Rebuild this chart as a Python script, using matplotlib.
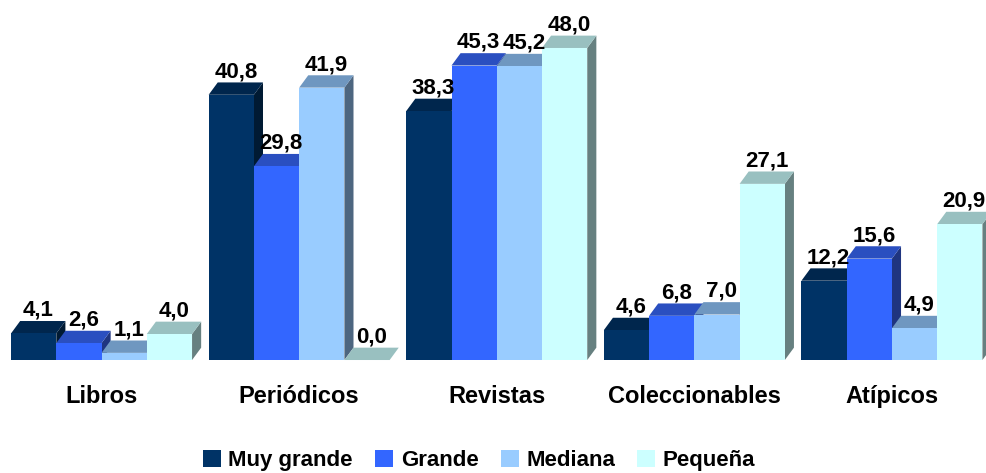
import matplotlib.pyplot as plt
from matplotlib.patches import Polygon, Patch
import numpy as np

plt.rcParams['font.family'] = ['Liberation Sans', 'DejaVu Sans']

# Data
categories = ['Libros', 'Periódicos', 'Revistas', 'Coleccionables', 'Atípicos']
series_names = ['Muy grande', 'Grande', 'Mediana', 'Pequeña']
muy_grande = [4.1, 40.8, 38.3, 4.6, 12.2]
grande = [2.6, 29.8, 45.3, 6.8, 15.6]
mediana = [1.1, 41.9, 45.2, 7.0, 4.9]
pequena = [4.0, 0.0, 48.0, 27.1, 20.9]
series = [muy_grande, grande, mediana, pequena]

# colors: front, top, side
front_colors = ['#003366', '#3366FF', '#99CCFF', '#CCFFFF']
top_colors = ['#00264d', '#2a4fc0', '#6f97c0', '#99c0c0']
side_colors = ['#001a33', '#1f3580', '#4d6680', '#668080']

fig = plt.figure(figsize=(9.86, 4.73), dpi=100)
ax = fig.add_axes([0, 0, 1, 1])
ax.set_xlim(-0.514, 4.476)
ax.set_ylim(-17.38, 55.38)
ax.axis('off')

w = 0.229
dx = 0.046
dy = 1.9
x = np.arange(len(categories))

z = 2
for i in range(len(categories)):
    for j, vals in enumerate(series):
        v = vals[i]
        left = x[i] - 2 * w + j * w
        right = left + w
        # side face
        ax.add_patch(Polygon([(right, 0), (right + dx, dy), (right + dx, v + dy), (right, v)],
                             closed=True, facecolor=side_colors[j], edgecolor='none', zorder=z))
        # top face
        ax.add_patch(Polygon([(left, v), (left + dx, v + dy), (right + dx, v + dy), (right, v)],
                             closed=True, facecolor=top_colors[j], edgecolor='none', zorder=z))
        # front face
        ax.bar(left, v, width=w, align='edge', color=front_colors[j], edgecolor='none', zorder=z + 0.5)
        ax.text(left + w / 2 + dx / 2, v + dy + 0.8, f'{v:.1f}'.replace('.', ','),
                ha='center', va='baseline', fontsize=16, fontweight='bold', zorder=100)
        z += 1

for i, c in enumerate(categories):
    ax.text(x[i], -5.55, c, ha='center', va='center', fontsize=17, fontweight='bold')

handles = [Patch(facecolor=front_colors[j], edgecolor='none') for j in range(4)]
fig.legend(handles, series_names, loc='center', bbox_to_anchor=(0.486, 0.027), ncol=4,
           frameon=False, prop={'weight': 'bold', 'size': 16}, handlelength=0.8,
           handleheight=0.8, handletextpad=0.35, columnspacing=1.0)

plt.savefig('out.png', dpi=100)
